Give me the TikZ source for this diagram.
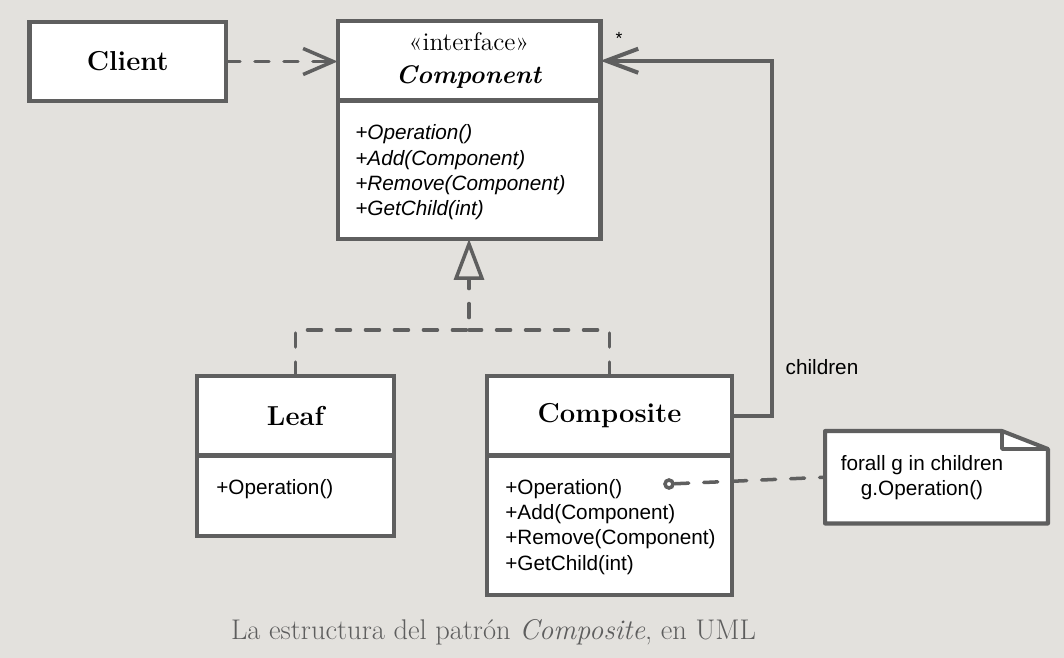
\documentclass[tikz,border=0pt]{standalone}
\usepackage{fontspec}
\newfontfamily\umlsans{Liberation Sans}
\usepackage{xcolor}
\usetikzlibrary{positioning, arrows.meta}
\definecolor{linegray}{HTML}{5F5F5F}
\definecolor{paper}{HTML}{E3E1DD}
\definecolor{capgray}{HTML}{5E5E5E}

\begin{document}
\begin{tikzpicture}[
    x=0.02cm, y=-0.02cm,
    node distance=0pt,
    classbox/.style={rectangle, draw=linegray, fill=white, line width=2.3pt, inner sep=0pt, outer sep=0pt, align=center},
    classname/.style={classbox, font=\fontsize{15.6}{18}\selectfont\bfseries},
    ops/.style={anchor=north west, inner sep=0pt, align=left, font=\umlsans\fontsize{11.8}{14.35}\selectfont},
    opsit/.style={ops, font=\umlsans\itshape\fontsize{11.8}{14.35}\selectfont},
    sanslabel/.style={inner sep=0pt, font=\umlsans\fontsize{11.8}{14}\selectfont},
    dashline/.style={draw=linegray, line width=2pt, line cap=round, dash pattern=on 0.28cm off 0.3cm},
    assoc/.style={draw=linegray, line width=2.3pt, -{Straight Barb[length=0.64cm, width=0.48cm]}}
]

% background, fixes the margins
\fill[paper] (0,0) rectangle (1064,658);

% Client and the interface
\node[classname, minimum width=3.93cm, minimum height=1.58cm] (client) at (127.75,61.5) {Client};
\node[classbox, minimum width=5.26cm, minimum height=1.59cm, font=\fontsize{14.5}{18.7}\selectfont] (comphead) at (469,60.75) {«interface»\\\textbf{\textit{Component}}};
\node[classbox, minimum width=5.26cm, minimum height=2.77cm, below=of comphead] (compbody) {};
\node[opsit] (compops) at ([shift={(0.35cm,-0.48cm)}]compbody.north west) {+Operation()\\+Add(Component)\\+Remove(Component)\\+GetChild(int)};

% Leaf and Composite
\node[classname, minimum width=3.94cm, minimum height=1.59cm] (leafhead) at (295.5,415.75) {Leaf};
\node[classbox, minimum width=3.94cm, minimum height=1.61cm, below=of leafhead] (leafbody) {};
\node[ops] (leafops) at ([shift={(0.38cm,-0.47cm)}]leafbody.north west) {+Operation()};

\node[classname, minimum width=4.9cm, minimum height=1.59cm] (compositehead) at (609.5,415.75) {Composite};
\node[classbox, minimum width=4.9cm, minimum height=2.79cm, below=of compositehead] (compositebody) {};
\node[ops] (compositeops) at ([shift={(0.36cm,-0.47cm)}]compositebody.north west) {+Operation()\\+Add(Component)\\+Remove(Component)\\+GetChild(int)};

% Note
\node[minimum width=4.46cm, minimum height=1.85cm, inner sep=0pt, outer sep=0pt] (note) at (936.5,477.25) {};
\filldraw[draw=linegray, fill=white, line width=2.3pt, line join=round] (note.north west) -- ([xshift=-0.92cm]note.north east) -- ([yshift=-0.36cm]note.north east) -- (note.south east) -- (note.south west) -- cycle;
\draw[linegray, line width=2pt, line join=round] ([xshift=-0.92cm]note.north east) |- ([yshift=-0.36cm]note.north east);
\node[sanslabel, align=center, font=\umlsans\fontsize{11.8}{14.35}\selectfont] (notetext) at (922,477.5) {forall g in children\\g.Operation()};

% Client uses Component
\draw[dashline, -{Straight Barb[length=0.6cm, width=0.52cm]}] (client) -- (client -| comphead.west);

% Realization
\coordinate (join) at (469,330);
\draw[dashline] (compositehead.north) |- (join);
\draw[dashline, -{Triangle[open, length=0.82cm, width=0.6cm]}] (leafhead.north) |- (join) -- (compbody.south);

% Aggregation of children
\coordinate (turn) at (772,240);
\draw[assoc] (compositehead.east) -| (turn) |- (comphead.east);
\node[sanslabel] (childlabel) at (822,367) {children};
\node[inner sep=0pt, anchor=base, font=\umlsans\fontsize{10}{12}\selectfont] (mult) at (619,45) {*};

% Operation note link
\node[circle, draw=linegray, fill=white, line width=2pt, minimum size=0.16cm, inner sep=0pt] (opdot) at (669,484) {};
\draw[dashline] (opdot) -- (note.west);

% Caption
\node[font=\fontsize{16.2}{19}\selectfont, text=capgray] (caption) at (493.5,632) {La estructura del patrón \textit{Composite}, en UML};

\end{tikzpicture}
\end{document}
